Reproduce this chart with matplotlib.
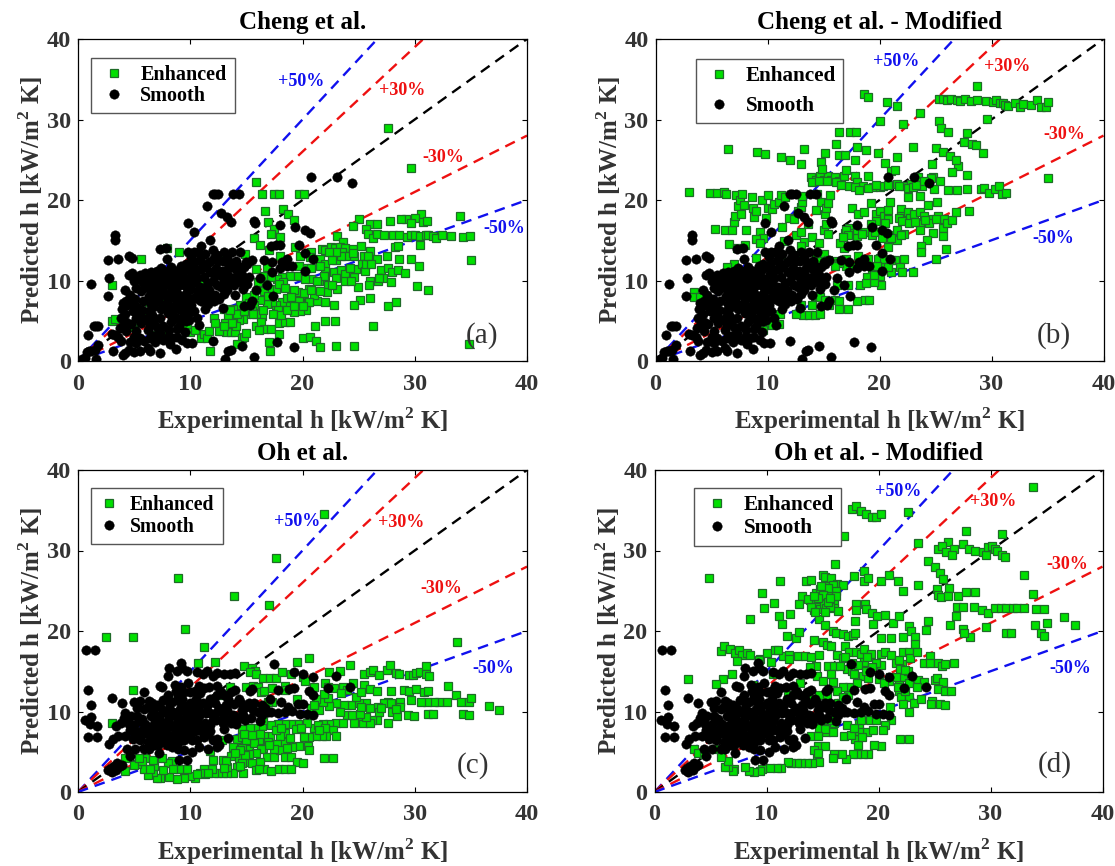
import matplotlib
matplotlib.use("Agg")
import matplotlib.pyplot as plt
import numpy as np

titles = ["Cheng et al.", "Cheng et al. - Modified", "Oh et al.", "Oh et al. - Modified"]
panel_tags = ["(a)", "(b)", "(c)", "(d)"]
ticks = [0, 10, 20, 30, 40]
line_slopes = [1.5, 1.3, 1.0, 0.7, 0.5]
line_colors = ["#1010ee", "#ee1010", "black", "#ee1010", "#1010ee"]
band_labels = ["+50%", "+30%", "-30%", "-50%"]
band_colors = ["#1010ee", "#ee1010", "#ee1010", "#1010ee"]

smooth_top = [
(1.2,9.6),(0.9,3.2),(1.4,4.3),(1.6,4.3),(1.8,4.3),(0.4,0.3),(0.6,0.4),(0.8,1.1),(1,1.3),(1.2,1.3),(1.5,1.4),(1.6,0.3),(1.8,2),(3,3.3),(3.1,1.2),(2.7,8.1),(2.8,10.3),(2.7,12.5),(3.3,15.6),(3.3,15),(3.6,12.7),(4.5,13.1),(4.8,12.8),
(9.8,17.2),(10.3,16),(11.5,19.3),(12,20.7),(12.2,20.7),(12.5,20.7),(12.7,18.4),(13.3,17.9),(13.6,17.3),(13.8,20.7),(14.3,20.7),(15.7,17.4),(15.8,17.1),(18,16.9),(19.3,16.6),(20.2,16.3),(20.7,15.9),(20.8,22.9),(23.1,22.9),(24.4,22.1),(11.8,15),(19.7,14.4),(17.6,14.4),(18,14.4),(17.2,14.3),(12,13.8),(11,14.3),(9.8,13.6),(7.3,13.9),(7.8,14),(7.9,12.7),(20.2,13.4),(20.9,12.7),(18.6,12.7),(18.2,12.3),(17.3,12.3),(16.6,12.6),(15.5,12.6),(15,12.3),(14.4,13.5),(13.7,13.5),(13,13.6),(20.2,11.2),(19.1,11.8),(18.6,11.8),(18,11.6),(17.3,11),(16.2,10.3),(16.8,9.4),(15.9,8.8),(17.4,8.1),(15.5,7.5),(15.3,7),(14.8,6.8),(14,8.2),(12.9,6.6),(17.7,2.4),(19.2,1.7),(14.6,1.9),(13.6,1.4),(13.4,1.3),(13.1,0.2),(15.7,0.5),(12,2.5),(10.2,2.2),(9.7,2.2),(8.7,1.5),(7.3,1.0),(6.4,1.2),(6.2,1.6),(5.5,1.2),(5,1.1),(4.5,1.4),(4.2,1.0),(4,0.7),(5.2,2.2),(4.6,2.4),(3.8,2.5),(5.5,2.8),(5.2,3.7),
(3.3,3.2),(3.7,4.1),(4.0,4.4),(4.3,3.7),(3.8,5.4),(4.2,5.9),(4.4,6.9),(4.3,7.4),(4.2,8.8),(4.6,8.2),(4.5,10.7),(4.8,10.9),(5,9.9),(5.2,9.1),(5.1,7.7),(4.9,6.2),(5.2,5.4),(5.6,4.7),(5.7,6.3),(5.8,7.5),(5.6,8.7),(5.9,9.6),(5.5,10.7),(6,10.9),(6.2,9.1),(6.3,8.1),(6.1,5.2),(6.4,4.5),(6.6,3.1),(6.9,2.3),(7,4.2),(6.8,5.1),(6.7,6.7),(6.5,7.1),(6.8,7.9),(7,8.8),(6.8,9.6),(6.7,10.3),(7,11.2),(7.2,10.6),(7.4,9.9),(7.5,9.1),(7.3,8.1),(7.6,7),(7.3,5.4),(7.6,4.3),(7.6,2.6),(8,3),(8.2,2.1),(8.1,3.9),(8.3,4.8),(8,6),(8.2,6.8),(8,7.7),(8.3,8.6),(8.1,9.5),(8.3,10.3),(8,11.2),(8.3,11.7),(8.7,11.2),(8.9,10.1),(8.7,9),(9,8.2),(8.8,7.2),(9,6.4),(8.8,5.3),(9,4.3),(8.8,3),(9.3,2.6),(9.5,3.6),(9.6,5),(9.4,5.8),(9.7,6.6),(9.5,7.6),(9.7,8.6),(9.4,9.4),(9.7,10.2),(9.4,11.2),(9.6,12),(9.2,11.8),(10,11.5),(10.3,12.2),(10.2,10.8),(10.4,9.8),(10.1,8.9),(10.4,8),(10.1,7),(10.3,6.2),(10.6,5.4),(10.8,4.5),(10.7,13.6),(10.9,12.7),(11,11.4),(11.2,10.4),(10.9,9.2),(11.2,8.2),(11,7.4),(11.3,6.4),(11.6,7.1),(11.7,8.8),(11.6,9.7),(11.8,11),(11.7,12.3),(12.1,12.8),(12.3,11.6),(12.2,10.5),(12.4,9.4),(12.2,8.2),(12.6,7.7),(12.7,9.2),(12.9,10.3),(12.8,11.2),(12.9,12.4),(13.3,12.8),(13.4,11.6),(13.3,10.8),(13.5,9.7),(13.3,8.8),(13.9,9.5),(14,10.4),(13.9,11.5),(14.1,12.4),(14.4,11.7),(14.6,10.7),(14.7,9.6),(14.7,8.9),(15.1,9.6),(15.2,10.4),(14.8,11.7),(15.1,12.1),
(5.3,10.2),(5.7,9.9),(6.3,10.1),(6.6,8.7),(6.2,9.7),(6.5,11.1),(7.4,11.6),(7.7,11),(7.9,10.6),(7.8,9.6),(8.5,9.7),(9,9.4),(9.1,10.7),(9.2,11),(8.6,10.8),(8.4,8),(7.7,8.4),(7.1,7.4),(7.4,6.4),(7.9,6.6),(8.5,6.2),(8.4,5.5),(9.3,6.9),(9.3,8),(10,9.5),(10,7.7),(9.9,6),(10.7,7.7),(10.7,8.7),(10.6,10.3),(10.6,11.3),(10.4,11),(11.4,11.7),(11.4,9),(11.6,7.9),(12,9.9),(12.1,7.5),(12.5,10.9),(12.5,12.4),(13,9.7),(13,8.3),(13.6,10.3),(13.6,12.2),(14.3,9.9),(14.3,11),(14.9,10.2),(11.1,12),(10.1,12.9),(10.3,13.5),(11.3,13.3),(12.4,13.2),(6.3,6.2),(6.6,5.7),(5.5,5.7),(5.3,6.7),(4.7,7.2),(4,7.2),(3.9,6.4),(6.2,3.8),(6.4,2.8),(7,3.2),(7.3,3.5),(8.4,2.8),(8.8,4),(9.2,5),(9.9,5.1),(5,3),(4.7,4.6),(4.3,4.9),(3.6,3),(5.9,2.5),
]

smooth_bottom = [
(0.7,17.6),(1.5,17.6),(0.9,12.7),(1.2,10.8),(0.6,8.9),(1.2,9.3),(1.1,8.5),(1.7,8.2),(0.9,6.8),(1.7,6.8),
(2.7,2.7),(2.9,3),(3,2.5),(3.2,3.2),(3.4,2.7),(3.5,3.6),(3.7,3.2),(3.9,3.4),(2.8,6),(3.1,6.6),(3,11.7),(3.6,7),(3.4,8.2),(3.8,8.6),(3.9,11),(4.1,9.2),(4.2,9.8),(4.4,5.3),(4.6,4.5),(4.6,7.7),(4.7,9.4),(4.9,6.6),(5,11.2),(5.3,10.4),(5.5,11.3),(5.4,8.8),(5.8,7.8),(5.5,6.4),(5.9,5.4),(5.9,12.4),(6.2,10.5),(6.3,11.3),(6.4,7),(6.6,8.2),(6.5,9.4),(6.8,5.8),(7,10.8),(7.1,6.8),(7.2,4.9),(7.3,13.2),(7.5,13),(7.6,11.4),(7.5,8.7),(7.7,7.4),(7.9,9.8),(7.9,5.8),(8,14.4),(8.1,15.4),(8.2,6.6),(8.3,8.2),(8.4,11.2),(8.6,13.3),(8.5,10),(8.7,12.6),(8.6,7.3),(8.8,15),(8.9,5.3),(9.1,9),(9.1,7.9),(9.2,16),(9.3,15.4),(9,4),(9.3,11.6),(9.4,12.4),(9.4,10.5),(9.4,6.5),(9.7,15),(9.7,4),(9.8,8.8),(10,11),(10.2,7.4),(10.2,5),(10.2,9.8),(10.4,12.6),(10.6,14.9),(10.6,8.8),(10.8,13.2),(10.7,10.6),(11,7.6),(11.1,14.7),(11.2,12.9),(11.1,11.1),(11.5,15),(11.6,5.4),(11.8,9.8),(11.8,8.3),(12,14.4),(12.2,11),(12.4,14.8),(12.4,6.6),(12.6,5.8),(12.7,12.4),(12.9,9.8),(13,14.6),(13,7.8),(13.2,10.8),(13.4,6.7),(13.5,14.6),(13.6,12.4),(13.8,9.6),(14,14.8),(14,12.7),(14.1,8.4),(14.3,11.5),(14.6,10.2),(14.9,8.9),(15.3,12.6),(15.5,12.8),(15.6,10.2),(16,9.9),(16.4,10.8),(16.9,10),(17.1,11.5),(17.5,15.9),(17.8,12.7),(17.8,9.8),(18.1,11.2),(18.4,10),(18.8,12.8),(19.2,14.9),(19.2,12.9),(19.1,10.1),(19.6,10.9),(20,14.6),(20,10.9),(20.4,9.7),(20.6,12.6),(20.9,14.3),(20.9,12),(20.9,9.6),(22.3,12.9),(23,14.4),(24.2,13),
(4.5,8.4),(5.2,7.6),(6,8.4),(6.2,6.2),(6.7,9.9),(7,7.6),(7.4,6.2),(7.6,10),(8,8.6),(8.1,10.4),(8.8,9.6),(8.8,11.4),(9.6,9.2),(9.7,7.2),(9.1,6.3),(10.2,6.4),(10.6,6.4),(10.8,9.5),(11.4,9.8),(11.2,6.8),(11.6,7.2),(12,6.4),(12.3,8.9),(12.6,10.4),(12.9,8.6),(13.6,8.6),(14.4,9.2),(15.4,9.2),(16.2,8.8),(12.4,5.6),(9.4,8.3),(8.3,7),(6.3,5.4),(5.1,5.4),(4.2,7),
(6.6,7.3),(7.2,8.2),(7.2,9.4),(7.8,8),(8.1,9.2),(8.7,8.4),(8.9,9.1),(8.5,6.2),(9,7),(9.5,7.6),(9.9,8.2),(10,9.2),(9.5,10),(9.1,10.3),(8.9,12),(9.2,13),(9.8,13.6),(10,12.4),(10.5,11.5),(10.9,10),(11.3,8.6),(11.5,10.7),(11.8,11.6),(12.4,10),(12.4,12.1),(12,9),(12.8,8.9),(13.1,9.2),(13.4,11.5),(13.9,10.9),(14.5,11),(15,10.5),(15.2,11.1),(14,9.5),(10.4,7.6),(10.4,8.3),(11.1,8),(9.4,5.2),(8.4,5.6),(7.7,6.6),(6.9,8.9),(6.2,7.4),(5.7,9.1),(5,8.3),(5.3,9.5),(5.9,10.3),(6.6,11),(7.3,10.6),(8,12),(8.1,11.2),(10.9,12.3),(11.7,13),(12.4,13.2),(13,12),(5,7.3),(5.6,7),(6.5,6.4),(7.1,5.8),(7.9,7.2),(10.8,5.6),(16.7,10.4),(17.2,9.9),(18.7,10.6),(19.8,9.7),(15.7,11),(16.4,9.6),(14.7,9.6),(13.3,10.2),(11.8,7.6),(10.2,10.6),(9.2,11),
]

enh_a = [
(27.6,29),(29.7,24),(15.9,22.2),(16.4,20.7),(17.5,20.7),(17.9,20.7),(19.7,20.7),(20.1,20.7),(16.7,18.6),(18.3,18.9),(18.7,18.2),(19.2,17.5),(16.9,17.3),(17.5,16.4),(17.2,15.8),(15.7,15.3),(16.2,14.4),(18,15.4),(17,13.8),(34,18),(30.6,18.2),(30,17.8),(30.7,17.3),(31.1,17.4),(29.2,17.7),(28.8,17.6),(27.8,17.4),(25,17.6),(24.5,16.8),(26,17),(26.6,17),(29.7,17.2),(25.7,16.4),
(25.8,15.8),(26.3,15.3),(26.6,15.8),(27.3,15.6),(28.1,15.7),(28.6,15.6),(29.3,15.4),(29.7,15.7),(30,15.7),(30.5,15.5),(31,15.7),(31.2,15.6),(31.6,15.5),(31.9,15.3),(32.4,15.6),(33.2,15.5),(34.3,15.4),(34.9,15.5),(35,12.6),(34.8,2.1),(23.1,15.5),(23.6,14.8),
(21.7,13.9),(22,13.8),(22.5,14.1),(22.9,14),(23.3,14.2),(23.8,14),(24.5,13.9),(25.2,14.3),(26,13.7),(28.2,14.2),(28.5,14.3),(30.5,14.4),(21.6,12.7),(22,12),(22,11.2),(22,10.5),(21.5,9.9),(22.8,11),(23,12.5),(23.5,13.5),(23.9,13),(24.6,13),(25.5,13),(26.6,12.7),(27.5,13),(28.6,12.7),(29.7,12.7),(30.4,11.8),(23.4,11.3),(23.8,10.8),(24.6,10.4),(24.8,11.4),(25.3,12),(25.6,11.2),(26,10),(25.9,9.4),(26.7,10),(27,11.3),(27.2,10.3),(27.6,11.5),(28,11),(28.5,11.3),(29.1,10.9),(30.2,9.3),(31.2,8.8),(27.9,9.8),(23.1,9),(22.3,9.4),(23.8,9.9),(24.9,9.2),(22.2,8.6),(26,7.8),(25.1,7.6),(24.6,7),(27.6,6.8),(28.3,7.3),(22.8,7),(22,7.3),(21.3,7.4),(21,8.2),(20.6,9),(20.8,10.2),(20.2,10.2),(19.5,10.5),(18.9,10.5),(18.2,10.4),(17.7,10.2),(17.2,10.4),(16.5,10.5),
(20.5,7.3),(20.3,6.3),(19.8,6.2),(19.2,6.1),(19.7,7.4),(18.8,7.2),(18.2,7.3),(17.6,6.9),(17.8,6.3),(17.3,7.3),(16.8,7.1),(16.2,7.6),(15.7,7),(15.5,6.2),(15.2,6.3),(14.9,6.9),(14.4,6.9),(16.4,5.6),(15.9,5.8),(15,5.8),(14.7,5.2),(14.3,5.1),(13.8,5.2),(13.4,5.5),(13.1,4.7),(12.8,3.7),(13.2,3.6),(13.6,3.6),(14,3.6),(14.1,4.4),(14.6,2.9),(14.8,3),(15,3.5),(14.2,2.1),(15.9,4.4),(16.3,4.9),(16.6,4),(17.2,4),(17.9,4.7),(18.4,4.8),(18.9,4.8),(17.9,3.3),(17,2.4),(17.1,1.3),(20,2.8),(20.7,3),(21.2,2.5),(21.6,1.7),(22,5),(22.9,5),(23,1.9),(24.6,1.9),(26.3,4.4),(21.1,4.4),(19.6,8.6),(19.2,8.8),(18.3,9.8),(16.7,9.6),(16,9.8),(15.7,8.2),
(3,5),(3.3,5.2),(5,4.2),(5.5,4.9),(6,5.5),(6.3,7.3),(6.8,3.2),(7,3.2),(7.5,3.2),(7.6,7.5),(3,9.4),(5.6,12.7),(7.9,14),(9,13.5),(9.7,4.2),(10,3.6),(10.4,3.8),(11,2.8),(11.2,3.3),(11.5,2.9),(11.7,3.7),(11.8,1.2),(12.1,5.3),(12.2,4.7),(12.6,3.7),(13,6.4),(13.8,6.5),(14.9,13.3),(12.6,13),(10.8,10),(19.7,11.8),(19.3,14.2),(19.8,13),(20.8,13.5),(20.4,11.6),(18,13),(16.8,11.7),(15.9,11.4),
(18.6,7.8),(19,8),(17.6,9),(17.9,9.6),(17,9),(16.6,8.7),(16.9,8.1),(18.4,9.1),(20.1,8.5),(20.8,8.8),(21.9,10.6),(23,10.3),(21.6,8.7),(20.6,7.3),(21.3,9.9),(22.6,9.4),(24.3,9.9),(24.5,13.4),(25.7,12),(25.8,13),(26.1,12),(26.8,10.3),(24.2,11.6),(23.4,13),(23,13.5),(22.4,13.5),(22.6,12.5),(21.6,11.8),(20.7,12.9),(20.8,11.6),(15,8),(15.2,7.2),(15.6,5.8),(16.5,6.3),(17.4,5.9),(18.1,5.7),(18.6,6.3),(14.2,5.9),(13.5,6.3),(14.8,6.2),(13.7,4.7),(13,4.4),(16.1,3.8),(19.2,6.8),(20,6.8),
]

enh_b = [
(3,21),(4.9,20.9),(5.5,20.9),(6.1,21),(6.3,20.8),(6.5,26.3),(5.3,16.4),(6.2,16.3),(6.8,16.3),(6.6,14.5),(7,17.3),(7.1,18),(7.2,20.6),(7.4,19.2),(7.5,20),(7.6,18.2),(7.7,20.7),(7.9,19.4),(8.1,16.3),(8.6,20.4),(8.7,19),(8.8,17.9),(9,18.6),(9.1,26),(9.8,25.7),(9.3,16),(9.6,15.3),(9,15.2),(9.3,14.7),(9.9,17.8),(9.5,20),(10,20.6),(10,19),(10.4,18.9),(10.6,19.5),(11,19.7),(11.2,20.6),(11.6,20.4),(11.2,25.4),(12,25),(13,24.5),(13.3,26.3),(11.3,16.6),(11.5,14.9),(11.9,17.8),(12.4,17.7),(12.7,18.6),(12.5,15.6),(13,16),(13,19.1),(13.1,19.7),(13.1,20.5),(13.3,14.8),(13.6,17),(14,15.4),(14.3,18.7),(14.6,14.7),(14.8,19.8),(14.4,20.8),(15,16.3),(15.1,18.2),(15.2,19),(15.2,17),(15.4,19.6),(15.6,20.6),(15.4,15.8),
(13.9,22.8),(14.3,22.5),(14.7,23),(15,22.5),(15.4,23),(15.7,22.5),(16,22.8),(16.4,22.3),(16.8,23),(17.3,21.8),(17.8,23),(18,22.2),(18.5,21.8),(19,23),(19.4,21.6),(20,21.6),(20.3,21.8),(20.8,21.9),(21.6,22),(22.2,21.8),(22.8,22),(23.4,22.8),(23.8,21.8),(24.8,22.8),(25.4,22.3),(24.9,21.4),(26.1,21.3),(26.9,21.2),(27.8,21.4),(29.1,21.4),(29.3,21.5),(29.8,20.9),(30.3,21.4),(30.7,21.8),(30.9,20.7),(31.3,20.9),(35,22.7),(27.8,23.1),
(14.8,24.7),(14.9,23.9),(15.1,25.9),(16.1,26.9),(16.4,25.6),(16.9,25.6),(16.4,28.4),(17.4,28.5),(17.9,28.5),(17.8,25),(18,26.6),(18.8,26.2),(19.9,25.8),(20.5,24.6),(21,23.6),(21.4,23.7),(21.6,25.3),(23,26.6),(17,23.7),(18.6,33.2),(19,32.8),(20.7,32.2),(21.6,31.7),(20,29.8),(22.1,29.4),(23.6,30.8),(25.3,29.8),(25.5,29),(26.1,28.5),(27.8,28.3),(27.5,27.2),(28.3,27),(28.6,26.8),(29.2,25.8),(27,24.2),(26.5,23.5),(24.7,24.5),(25,26.4),(25.7,26),(26.3,25.5),(26.8,25),(29.6,30.1),(28.7,34.1),
(25.3,32.5),(25.7,32.6),(26,32.4),(26.4,32.6),(26.9,32.4),(27.2,32.3),(27.6,32.5),(28.2,32.3),(28.7,32.4),(29.5,32.3),(30.1,32.2),(30.4,32.4),(30.8,32),(31,32.1),(31.2,31.8),(31.5,31.7),(32.1,32),(32.5,31.5),(32.8,31.9),(33.5,31.8),(34.1,32.4),(34.4,31.6),(34.9,31.6),(35,32.2),
(16.9,15.9),(17.3,16.5),(17.5,19),(17.5,15.9),(18.1,18.2),(18,15.5),(18.7,16),(18.6,18.5),(19.2,19.6),(19.3,15.7),(19.7,18.3),(20,18.6),(20.4,18),(20.8,18.8),(20.8,17.6),(20.9,19.8),(21.1,15.6),(21.6,16.3),(21.9,18.9),(21.9,18),(22.2,15.8),(22.5,18.5),(22.7,17.8),(23.1,18.2),(23.6,17.2),(23.6,18.5),(24,18),(24.3,19.4),(24.6,22.7),(24.8,17.7),(25.2,18),(25.1,19.8),(25.7,16.5),(25.8,17.7),(26,17.2),(26.5,17.5),(26.8,18.5),(28,18.6),(25.7,15.5),(24.8,15.9),(24.2,15),(23.6,16.3),(22.5,20.4),(23.6,20.5),(23.7,14.3),(23.7,13.6),(25,12.7),(25.9,13.9),(21.6,15),(20.8,14.1),
(20,12.8),(19,12.7),(18.1,13),(17,12.7),(15.9,12.4),(15,13.3),(14.3,13),(20.5,12),(21.4,12.6),(22.2,12.7),(21.8,11.7),(22,11.1),(23,11.1),(21,11.1),(20,10.5),(19.3,11.3),(18.9,10.4),(18.3,9.5),(20.1,9.5),(19.5,9.8),(17.2,9.5),(16.2,9.5),(14.2,8.1),(14.7,8),(15.1,7.6),(16,7.6),(16.4,7.4),(17.2,6.5),(18,7.5),(18.7,7.6),(19.1,7.6),(13.2,5.7),(13.7,5.7),(14.2,5.7),(14.7,5.8),(13,6.9),(14,6.9),(15.5,7),(16.4,6.5),(12.5,5.9),(11.1,5.9),(11,4.6),(10.4,4.5),(9.7,4.5),(9.3,4.5),(9.6,3.9),(3.4,8.6),(3.4,7.9),(4,7.9),(7,12),(6.4,11.7),(8,10.4),(11.2,13.2),(12.6,13.2),(16.8,14),(16.5,14.7),(13,14.3),(8,14.4),(7.3,14),(9,12.8),
(14,22.2),(14.6,22.3),(15.3,22.3),(16.1,22.2),(16.6,21.9),(17.8,21.6),(18.2,21.2),(19,21.5),(19.7,21.9),(21.7,21.8),(22.5,21.5),(23,21.6),(23.3,21.9),(24,22.3),(18,16.3),(17,16.3),(17.2,15.6),(16.7,15.4),(18.4,15.8),(19.6,16),(20.2,15.3),(21,15.3),(21.9,15.7),(21.7,17.8),(22,17.4),(22.6,17.2),(23.2,17.3),(24.4,17.2),(25,17.7),(24.1,17.5),(20.5,17.2),(19.7,17.4),(19.2,17),(19.9,12.7),(20.4,12.7),(21,12.6),(18.6,12),(17.7,11.8),(17,11.8),(16.4,12.2),(16,11.8),(15.4,12.6),(14.8,12.4),(19.8,11.8),(20.8,11.7),(19.5,10.7),(18.8,9.7),
]

enh_c = [
(21.9,34.5),(17.6,29.1),(8.9,26.6),(13.9,24.4),(17,23.2),(9.5,20.2),(2.5,19.2),(4.9,19.2),(11.2,18),(33.8,18.6),(20.6,16.7),(12.2,16.1),(10.7,16),(19.5,16.1),(14.8,15.6),(15.5,15.4),(15.8,15),(15.3,14.9),(15.9,14.6),(16.5,14.2),(17.1,14.1),(17.6,14.2),(18.2,14.9),(19,14.6),(20,14.3),(22.4,14.9),(23.3,15),(24.2,15.8),(25.5,14.6),(26,14.9),(26.3,15.2),(26.8,14.5),(27.5,15.1),(27.8,15.8),(28.3,14.8),(28.6,14.6),(29.5,14.5),(29.8,14.5),(30.1,14.8),(30.5,14.9),(31,15.7),(31,14.6),(31.3,14.4),(4.9,12.7),(3,8.6),
(15,13),(15.6,13.2),(16,13),(16.3,12.4),(16.6,12.5),(17.3,12.9),(18.4,13.2),(20.2,13.8),(21,13.1),(22,13.5),(22.8,12.9),(23.6,13),(24.5,13.5),(25.5,13.3),(26,12.8),(26.6,12.6),(27.9,12.5),(29,12.7),(29.5,12.6),(30.1,12.8),(30.8,12.4),(31.2,12.6),(33,13.2),(33.7,12),(34.1,11.2),(34.8,11.2),(35,11.7),(32.9,11.2),(32.2,11.2),(31.7,11.2),(31.1,11.2),(30.6,11.2),(29.7,11.4),(28.7,11.2),(27.6,11.2),(27.3,11),(26.7,10.5),(25.7,11),(25,11),(24.3,10.8),(23.7,10.8),(23,11),(22.4,10.7),(21.8,11.2),(21.5,10.2),(20.8,10.4),
(28,10),(28.4,9.5),(29.4,9.6),(29.9,9.5),(31.2,9.7),(31.6,9.7),(34.3,9.7),(34.8,9.6),(36.6,10.7),(37.5,10.2),(27.6,8.6),(26.6,9),(26.2,9),(25.4,8.6),(26,8.6),(25.7,9.3),(24.9,9.5),(24.6,8.6),(24,9.6),(23.3,9.9),(23,8.6),(22.4,8.5),(21.8,8.4),(21,8),(20.4,8.6),(19.6,8.5),(19,8.5),(18.4,8.4),(17.8,8.5),(17.2,8.3),(16.4,8.2),(15.8,8),(15.3,7.9),(14.6,7.8),(22.7,7.7),(23,7),(22.1,7),(21.7,7),(21.2,7),(20.6,6.8),(20.1,6.8),(20.5,5.7),(20.6,5.2),(19.7,5.7),(19.1,5.6),(18.4,7.3),(18.3,6.2),(18,7),(17.7,6),(17.1,7),(16.6,7),(16.1,6.3),(15.6,6.2),(15.2,5.3),(14.6,5.5),(14.2,6.6),(13.8,5.6),(13.6,4.5),(14.3,4.2),(15,3.7),(15.5,3.6),(16.5,5.5),(16.8,4.3),(17.5,4.3),(18,5.2),(18.4,4.3),(19,4.3),(19.5,3.7),(20,3.6),(21.9,4.2),(22.7,4.2),
(15.9,2.7),(16.6,2.9),(17.2,2.6),(17.9,2.9),(18.4,2.9),(19,2.9),(14.7,2.3),(14.2,3.1),(13.8,2.3),(13.3,2.3),(12.9,2.3),(12.5,2.3),(12.1,2.3),(13.3,3.1),(12.9,4),(12,4),(11.9,2.8),(11.3,2.2),(11.2,2.8),(10.9,2.4),(10.4,1.8),(10,2),(9.7,2.8),(9.4,1.8),(9,2.8),(8.8,1.6),(8.1,1.9),(7.3,1.8),(7,1.8),(6.7,2.5),(6.2,2.1),(5.9,2.8),(6.8,3.2),(6,4.2),(5.3,3.5),(5,3.4),(4.2,2.6),(4.2,4.2),(8.4,3.9),(8,3.6),(7.5,4.2),(6.7,4),(11.8,5.1),(12.8,6.5),(14.6,6.8),(15.7,6.1),(16.5,9),(19.5,11.5),(18.4,12.7),(17.3,11.2),(16.9,11.2),(13.5,13),(12.7,12),(10.6,8),(8,11.5),
(16.2,7.2),(16.9,6.2),(17.5,5.4),(17,5.8),(16.3,5.3),(15.9,4.9),(15.2,4.7),(14.9,4.6),(14.4,5.2),(15,6.4),(15.5,7.1),(14.8,7.2),(18.9,6.7),(18.6,5.5),(17.6,7.7),(18.1,8),(19.4,7.8),(19.9,7.9),(21.4,8.3),(22,8),(21.5,7.7),(23.6,8.6),(24.4,9.6),(25.1,9.7),(26.8,10),(27,10.4),(26,10.4),(25.2,10.6),(24.8,11.8),(25.2,12.4),(24,12.7),(23.4,12.3),(22.3,11.7),(22.3,13),(21.9,12.2),(21.2,11.6),(21,10.8),(27.9,11),(28.7,10.5),(28.3,10.3),(14,4.8),(13.2,3.8),(14.6,3.6),(13,3),(11.6,2.4),(10.6,2.2),(8.5,2.8),(7.6,2.7),(5.7,3.9),(5.4,4.2),(6.4,2.8),(14.4,3.2),(16.2,3.7),(16.1,2.9),
]

enh_d = [
(33.8,37.9),(17.6,35.1),(18,35.5),(18.4,34.9),(18.9,34.5),(19.4,34.2),(19.8,34.1),(20.2,34.5),(22.6,34.8),(16.9,31.8),(23.5,30.9),(27.8,32.4),(31,32),(26.2,31.1),(25.3,30.2),(25.7,30.6),(26,29.8),(26.7,30.2),(26.6,29.5),(27.5,30.8),(28.1,30.2),(28.6,30),(29.3,29.8),(29.6,29.5),(29.8,30.4),(30.1,30.5),(30.4,30.2),(30.6,29.9),(31,29.5),(31.3,29.2),(24.4,28.7),(25,28),(25.5,27.2),(25.8,26.5),(33,26.9),(33.8,24.6),(16.1,28.3),(17.8,26.8),(18.7,27.4),(18.7,26.2),(19.1,26.6),(20.2,26.2),(20.9,26.9),(21.7,26.2),(22.2,25),(23.5,25.7),(25.2,25.2),(25.3,24.5),(25.6,24.2),(26.3,25.3),(26.2,24.4),(27.1,24.4),(27.8,24.9),(28.6,24.8),
(4.9,26.6),(11.2,26.2),(13.5,26.2),(14,26.3),(15,26.9),(15.2,26.7),(15.8,26.6),(16.3,25.9),(16.8,25.7),(14.4,24.7),(15.2,25.6),(15.5,24.9),(15.9,25.7),(16.2,25),(9.6,24.7),(13.2,24.3),(13.9,23.8),(14.4,23.6),(14.8,24),(15.3,24.2),(15.8,24.4),(16,23.6),(14.2,22.6),(14.8,22.7),(15.1,23.3),(15.3,22.8),(16,22.9),(16.4,22.5),(12.9,23.3),(9.8,22.8),(10.7,23.5),(11.1,21.9),(12.1,22.1),(8.5,21.5),(11.4,20.9),(14.7,21.5),(15.2,20.7),(15.9,20),(16.2,19.8),(16.8,19.6),(17.3,19.4),(17.7,19.5),(17.9,19.8),(12.6,19.1),(11.8,19.4),(12.9,19.9),(14.2,18.9),(18,23.4),(18,22.6),(17.9,21.2),(18.8,23.4),(18.9,22.7),(19.4,22.2),(19.9,21.9),(20.6,22),(19.5,20.9),(20.2,19.1),(21.1,19.1),(21.3,21),(21.8,21.9),(22.7,20.6),(22.9,20),(22.2,19.3),(23.3,19.2),(23.3,18.4),(24.2,20.1),(24.4,21.2),(26.4,20.7),(26.9,21.9),(27,23),(27.5,23),(28.5,23),(29.2,22.6),(29.8,22.2),(30.4,22.9),(30.9,22.8),(31.4,22.9),(32,22.8),(32.4,22.8),(33,22.8),(34.1,22.7),(34.8,22.7),(36.6,21.8),(37.5,20.8),(34,20.8),(35,21),(34.5,19.7),(34.8,19.4),(31.4,19.8),(31.8,19.8),(29.6,20.5),(28.2,19.2),(27.5,20.3),(27.6,19.7),
(5.9,17.5),(6.2,18.1),(6.7,17.8),(7.2,17.3),(7.5,17.6),(7.8,17),(8.3,17.3),(8.5,17),(7.4,16.3),(6.9,14.6),(6.1,14),(5.5,13.4),(3,14),(9.4,16.5),(10,17.3),(10.4,16.2),(10.8,17.6),(11.5,16.9),(11,17.6),(12,17),(12,16.5),(12.8,16.9),(13.4,16.9),(14,16.8),(14.7,17),(15,18.6),(15.4,18.3),(15.8,18.1),(16.3,17),(16.8,16.6),(17,18.1),(17.4,17.4),(18,17.4),(18.4,17.1),(18.7,17.8),(19.3,17.2),(20.2,17.2),(20.6,17.4),(21.1,17),(22.2,17.4),(22.7,17.4),(21.6,16),(22.1,15.9),(22.8,16.7),(23.4,17.4),(24.1,16),(24.6,16.9),(24.6,16),(25.3,16),(25.7,15.6),(25.9,15.9),(26.7,16),(20.2,15.8),(15.5,15.6),(16,15.6),(15.8,14.6),(14.4,15.6),(13.9,15.5),(17.2,15.3),(17.6,15),(17.8,14.6),(18.6,14.4),(19.1,14.2),(20,14),(21,14.3),(21.8,14),(22.2,14.3),(22.6,15),(23.5,13.9),(24.1,13.7),(25,13.9),(25.2,14.1),(25.8,13.7),(22.7,13.5),(23.4,13),(21.8,13.3),(21.8,12.6),(22,11.8),(22.7,11.8),(25.3,12.8),(25.9,12.6),(26.5,12.5),(23.2,11),(23.8,11.6),(24.8,11.3),(24.7,10.9),(25.5,10.9),(25.9,10.8),(22.2,10.9),(21,10.5),(22.7,9.9),(21.1,9),(20.6,8.3),(20.4,7.7),(17.9,6.6),(18.2,5.8),(19,7.5),(19.5,7.7),(18.3,7.6),(20.2,5.7),(19.6,5.9),(21.9,6.6),(22.7,6.6),(19.1,4.7),(18.6,4.7),(18.1,4.7),(17.7,4.7),(17.1,4.1),(16.7,4.7),(16,4.7),(15.9,4.2),(15.3,7.4),(15.9,7.5),(16.9,6.9),(14.6,5.7),(15.2,5.7),(14.5,4.3),(14.7,3.7),(14.1,3.6),(13.6,3.6),(13.1,3.6),(12.7,3.6),(12.2,3.6),(11.9,3.7),(11.3,3),(10.9,3),(10.3,3),(9.6,2.9),(9.4,2.6),(8.9,2.5),(8.4,2.6),(8.1,3.1),(7.1,2.9),(7,2.6),(6.6,3.1),(6.3,3.1),(6.6,3.9),(5.9,4.4),(3.5,5.4),(3.9,4.9),(4.4,4.7),(5.4,5.4),(17.2,8.3),(18.3,8.5),(16,8.6),(16.4,11),(17.3,12),(17.4,13),(18.1,13.5),(13,13.5),(11.9,12),(9,12.3),(13.8,11.5),(14.5,14.4),(15.4,12),
(14.8,25.2),(15.5,25.4),(15,24.5),(14.6,24.1),(14,23),(14.3,22.4),(15.7,23),(15.5,23.6),(16.2,24.3),(14.9,25.6),(15.7,24.1),(13.7,24),(14.2,24.4),(15.2,22.4),(21.8,16.4),(21.9,15.3),(22.4,15.1),(21.6,14.3),(21.7,13),(22.4,12.5),(20.9,13.8),(20.5,13.6),(19.8,16),(18.7,16.2),(18.2,15.8),(19.4,15.5),(19,16.8),(18.9,15),(17.6,16),(17,16.8),(16.6,15.6),(15.9,13.7),(15,13.8),(14.7,12),(16.8,13),(16.3,12.5),(16.8,11.8),(16.5,10),(15.8,9),(15,9),(14.4,9),(14.7,8),(15.2,7.8),(14,7),(14.6,6.9),(14.2,5.2),(14.6,4.9),(17.5,7.1),(17.8,7.9),(18.5,6.8),(18.4,9),(19.2,8.9),(19.8,8.9),(8.8,13.3),(9.3,16.4),(10.6,14.7),
]

enhanced_sets = [enh_a, enh_b, enh_c, enh_d]
smooth_sets = [smooth_top, smooth_top, smooth_bottom, smooth_bottom]

label_pos = [
    [(19.9,34.7),(28.9,33.6),(32.5,25.3),(38,16.5)],
    [(21.5,37.2),(31.4,36.6),(36.5,28.1),(35.5,15.2)],
    [(19.5,33.6),(28.8,33.5),(32.4,25.3),(37,15.4)],
    [(21.8,37.3),(30.2,36.1),(36.9,28.3),(37.1,15.4)],
]
tag_pos = [(36,3.2),(35.6,3.2),(35.2,3.3),(35.7,3.4)]
axes_px = [(78,39,527,361),(655.5,39,1103.5,361),(78,470,527,792),(654.5,470,1102.5,792)]
# legend box: left, top, width, font size, row spacing, handle length
legend_px = [(91,58,144,14.5,0.05,1.6),(696,59,147,15.2,0.46,1.5),(91,488,131.5,14.2,0.12,1.1),(694,488,147,15.2,0.13,1.5)]

W, H = 1115, 866
plt.rcParams.update({
    "font.family": "Liberation Serif",
    "font.weight": "bold",
    "axes.titleweight": "bold",
    "axes.labelweight": "bold",
    "mathtext.fontset": "custom",
    "mathtext.bf": "Liberation Serif:bold",
    "mathtext.rm": "Liberation Serif:bold",
    "axes.linewidth": 0.9,
})
GREY = "#333333"
fig = plt.figure(figsize=(W/100, H/100), dpi=100)

for i in range(4):
    l, t, r, b = axes_px[i]
    ax = fig.add_axes([l/W, 1-b/H, (r-l)/W, (b-t)/H])
    ref = np.array([0, 40])
    for s, c in zip(line_slopes, line_colors):
        ax.plot(ref, ref*s, color=c, lw=1.7, dashes=(4.5, 3), zorder=2)
    ex, ey = zip(*enhanced_sets[i])
    sx, sy = zip(*smooth_sets[i])
    ax.plot(ex, ey, ls="none", marker="s", ms=5.2, mfc="#00e000", mec="#1f6b28", mew=0.9,
            label="Enhanced", zorder=3)
    ax.plot(sx, sy, ls="none", marker="o", ms=6.8, mfc="black", mec="black", mew=0.3,
            label="Smooth", zorder=4)
    ax.set_xlim(0, 40); ax.set_ylim(0, 40)
    ax.set_xticks(ticks); ax.set_yticks(ticks)
    ax.tick_params(direction="in", top=True, right=True, length=3.5, width=0.8,
                   labelsize=17.5, labelcolor=GREY)
    ax.tick_params(axis="x", pad=9)
    ax.tick_params(axis="y", pad=5)
    ax.set_title(titles[i], fontsize=18, color="black", pad=7)
    ax.set_xlabel(r"Experimental h [kW/m$^{\mathbf{2}}$ K]", fontsize=18, color=GREY, labelpad=8)
    ax.set_ylabel(r"Predicted h [kW/m$^{\mathbf{2}}$ K]", fontsize=18, color=GREY, labelpad=1)
    for (x, y), txt, col in zip(label_pos[i], band_labels, band_colors):
        ax.text(x, y, txt, color=col, fontsize=13, ha="center", va="center", zorder=5)
    ax.text(tag_pos[i][0], tag_pos[i][1], panel_tags[i], fontsize=21, weight="normal",
            color=GREY, ha="center", va="center", zorder=6)
    lx, ly, lw_, fs, sp, hl = legend_px[i]
    leg = ax.legend(loc="upper left",
                    bbox_to_anchor=(lx/W, 1-ly/H, lw_/W, 0), bbox_transform=fig.transFigure,
                    mode="expand", fontsize=fs, frameon=True, fancybox=False, framealpha=1,
                    edgecolor="#555555", borderaxespad=0, borderpad=0.35, labelspacing=sp,
                    handletextpad=0.5, handlelength=hl)
    leg.get_frame().set_linewidth(1.0)
    leg.set_zorder(7)
fig.savefig("out.png", dpi=100)
